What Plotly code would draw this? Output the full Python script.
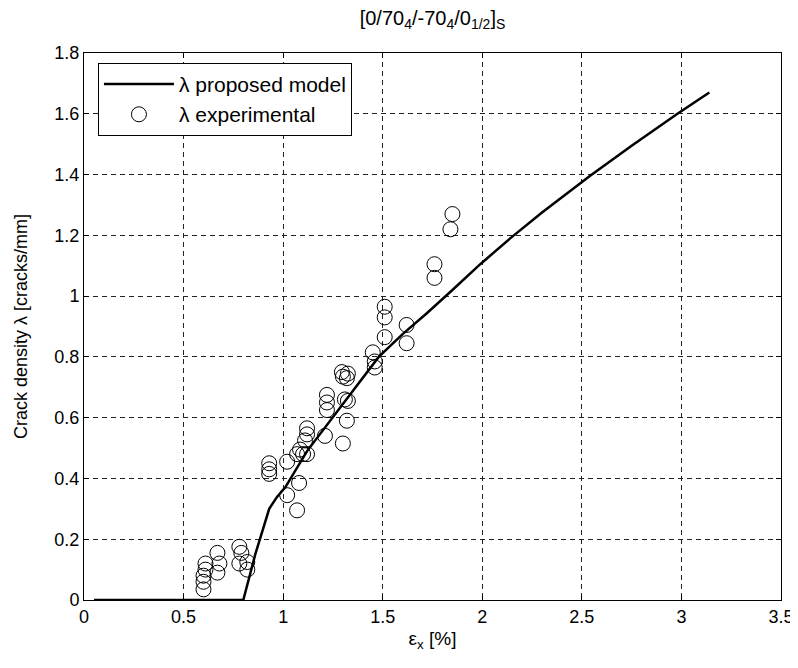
import plotly.graph_objects as go

# Model curve
model_x = [0.05, 0.80, 0.86, 0.93, 0.97, 1.01, 1.12, 1.32, 1.39, 1.48, 1.60, 1.72,
           1.85, 1.99, 2.14, 2.30, 2.54, 2.75, 2.98, 3.14]
model_y = [0.0, 0.0, 0.15, 0.30, 0.34, 0.37, 0.49, 0.66, 0.72, 0.80, 0.875, 0.943,
           1.02, 1.105, 1.19, 1.275, 1.395, 1.495, 1.60, 1.67]

# Experimental points
exp_x = [0.60, 0.60, 0.60, 0.61, 0.61, 0.67, 0.68, 0.67, 0.78, 0.79, 0.78, 0.82, 0.82,
         0.93, 0.93, 0.93, 1.02, 1.02, 1.08, 1.07, 1.07, 1.085, 1.10, 1.12, 1.12, 1.12,
         1.11, 1.22, 1.22, 1.22, 1.21, 1.30, 1.31, 1.325, 1.32, 1.295, 1.30, 1.32, 1.325,
         1.45, 1.46, 1.46, 1.51, 1.51, 1.51, 1.62, 1.62, 1.76, 1.76, 1.85, 1.84]
exp_y = [0.035, 0.06, 0.08, 0.10, 0.12, 0.155, 0.12, 0.09, 0.175, 0.155, 0.12, 0.125, 0.10,
         0.45, 0.43, 0.415, 0.455, 0.345, 0.385, 0.295, 0.48, 0.495, 0.48, 0.48, 0.565, 0.545,
         0.525, 0.675, 0.65, 0.625, 0.54, 0.515, 0.66, 0.655, 0.59, 0.75, 0.735, 0.73, 0.745,
         0.815, 0.785, 0.765, 0.965, 0.93, 0.865, 0.905, 0.845, 1.105, 1.06, 1.27, 1.22]

x_ticks = [0, 0.5, 1, 1.5, 2, 2.5, 3, 3.5]
x_tick_labels = ["0", "0.5", "1", "1.5", "2", "2.5", "3", "3.5"]
y_ticks = [0, 0.2, 0.4, 0.6, 0.8, 1.0, 1.2, 1.4, 1.6, 1.8]
y_tick_labels = ["0", "0.2", "0.4", "0.6", "0.8", "1", "1.2", "1.4", "1.6", "1.8"]

FONT = "Liberation Sans, Arial, sans-serif"

# The page body adds an 8px margin, so the figure is laid out smaller.
W, H = 790, 652
L, T, R, B = 76, 45, 17, 60

fig = go.Figure()
fig.add_trace(go.Scatter(x=model_x, y=model_y, mode="lines",
                         line=dict(color="black", width=2.5),
                         name="λ proposed model"))
fig.add_trace(go.Scatter(x=exp_x, y=exp_y, mode="markers",
                         marker=dict(symbol="circle-open", size=15, color="black",
                                     line=dict(width=1, color="black")),
                         name="λ experimental"))

axis_common = dict(showline=True, linecolor="black", linewidth=1, mirror="allticks",
                   ticks="inside", ticklen=5, tickcolor="black",
                   showgrid=True, gridcolor="#222", gridwidth=1, griddash="5px,4px",
                   zeroline=False, automargin=False, ticklabeloverflow="allow",
                   tickfont=dict(family=FONT, size=18, color="black"))

fig.update_xaxes(range=[0, 3.5], tickvals=x_ticks, ticktext=x_tick_labels,
                 title=dict(text="ε<sub>x</sub> [%]",
                            font=dict(family=FONT, size=19, color="black"), standoff=6),
                 **axis_common)
fig.update_yaxes(range=[0, 1.8], tickvals=y_ticks, ticktext=y_tick_labels,
                 title=dict(text="Crack density λ [cracks/mm]",
                            font=dict(family=FONT, size=18, color="black"), standoff=22),
                 **axis_common)

fig.update_layout(
    width=W, height=H,
    margin=dict(l=L, r=R, t=T, b=B),
    paper_bgcolor="white", plot_bgcolor="white",
    title=dict(text="[0/70<sub>4</sub>/-70<sub>4</sub>/0<sub>1/2</sub>]<sub>S</sub>",
               x=(L + (W - R)) / 2 / W, xanchor="center", y=1 - 10 / H, yanchor="middle",
               font=dict(family=FONT, size=20, color="black")),
    legend=dict(x=0.02, y=0.982, xanchor="left", yanchor="top",
                bgcolor="white", bordercolor="black", borderwidth=1,
                font=dict(family=FONT, size=21, color="black"), itemwidth=70),
    showlegend=True,
)

fig.write_html("out.html")
